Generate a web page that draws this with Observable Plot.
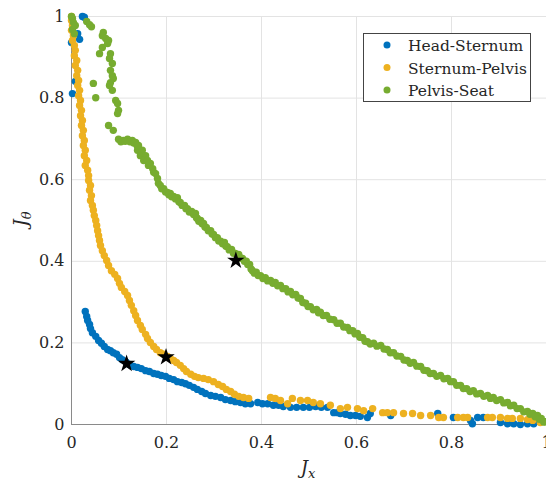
<!DOCTYPE html>
<html><head><meta charset="utf-8">
<script src="https://cdn.jsdelivr.net/npm/d3@7"></script>
<script src="https://cdn.jsdelivr.net/npm/@observablehq/plot@0.6"></script>
<style>
body{margin:0;background:#fff;}
#chart{position:relative;width:546px;height:480px;}
</style>
</head><body><div id="chart"></div>
<script>
const seriesNames = ["Head-Sternum", "Sternum-Pelvis", "Pelvis-Seat"];
const seriesColors = ["#0072BD", "#EDB120", "#77AC30"];
const ticks = [0, 0.2, 0.4, 0.6, 0.8, 1];
const tickLabels = ["0", "0.2", "0.4", "0.6", "0.8", "1"];
const xLabel = ["J", "x"];
const yLabel = ["J", "θ"];

const headSternum = [
[.023,1],[.027,.998],[.013,.958],[.017,.944],[0,.936],[.008,.841],[.002,.811],
[.029,.277],[.032,.265],[.034,.255],[.038,.245],[.040,.235],[.044,.225],[.051,.216],[.057,.206],[.063,.199],[.069,.191],[.076,.184],[.082,.181],[.088,.176],[.095,.172],[.101,.164],[.107,.159],[.115,.153],[.122,.147],[.131,.142],[.139,.140],[.147,.137],[.156,.132],[.164,.130],[.173,.125],[.181,.123],[.189,.120],[.198,.118],[.206,.113],[.215,.110],[.223,.105],[.232,.103],[.240,.100],[.248,.096],[.257,.091],[.265,.086],[.274,.081],[.282,.076],[.293,.071],[.303,.069],[.314,.066],[.324,.061],[.335,.059],[.345,.056],[.356,.054],[.366,.051],[.377,.051],[.392,.054],[.402,.051],[.413,.051],[.425,.047],[.436,.047],[.446,.044],[.461,.042],[.474,.042],[.488,.042],[.501,.042],[.514,.044],[.526,.042],[.539,.042],[.552,.029],[.560,.029],[.566,.027],[.577,.025],[.587,.022],[.598,.022],[.608,.020],[.623,.017],[.629,.027],[.672,.022],[.771,.027],[.804,.017],[.840,.010],[.844,.002],[.855,.017],[.867,.017],[.903,.005],[.918,.002],[.931,.002],[.945,0],[.960,.002],[.973,.002]
];

const sternumPelvis = [
[0,1],[0,.990],[.002,.978],[0,.966],[.004,.953],[.002,.941],[.006,.929],[.008,.917],[.006,.904],[.011,.892],[.008,.880],[.013,.868],[.011,.855],[.015,.843],[.013,.831],[.017,.819],[.015,.806],[.019,.794],[.017,.782],[.021,.770],[.019,.757],[.023,.745],[.021,.733],[.025,.721],[.023,.708],[.027,.696],[.025,.684],[.029,.672],[.027,.659],[.032,.647],[.029,.635],[.034,.623],[.036,.610],[.036,.598],[.040,.586],[.038,.574],[.042,.561],[.040,.549],[.044,.537],[.046,.525],[.048,.512],[.051,.500],[.053,.488],[.055,.475],[.057,.463],[.059,.451],[.061,.439],[.065,.426],[.069,.414],[.074,.402],[.078,.390],[.084,.377],[.091,.368],[.097,.358],[.101,.346],[.105,.336],[.112,.326],[.118,.316],[.122,.304],[.126,.292],[.131,.279],[.135,.267],[.139,.255],[.145,.243],[.149,.233],[.156,.221],[.160,.211],[.166,.201],[.173,.191],[.179,.184],[.187,.176],[.194,.172],[.202,.167],[.208,.162],[.215,.157],[.221,.152],[.229,.145],[.236,.137],[.242,.130],[.251,.123],[.259,.118],[.267,.115],[.278,.113],[.288,.110],[.299,.105],[.309,.098],[.318,.093],[.326,.086],[.335,.081],[.343,.074],[.352,.069],[.362,.066],[.373,.064],
[.419,.066],[.429,.064],[.440,.059],[.455,.051],[.465,.064],[.482,.059],[.497,.059],[.509,.054],[.524,.051],[.545,.047],[.566,.039],[.581,.042],[.602,.039],[.615,.034],[.634,.039],[.655,.029],[.665,.029],[.678,.029],[.699,.027],[.718,.027],[.735,.022],[.756,.022],[.773,.017],[.783,.017],[.813,.017],[.825,.017],[.834,.017],[.876,.017],[.886,.017],[.903,.017],[.918,.015],[.928,.015],[.945,.015],[.960,.012],[.971,.010],[.987,.005]
];

const pelvisSeat = [
[0,1],[.002,.995],[.004,.985],[.002,.968],[.006,.958],[.008,.978],[.032,.988],[.038,.980],[.042,.975],
[.067,.961],[.065,.953],[.072,.946],[.078,.941],[.076,.934],[.065,.924],[.059,.909],[.082,.909],[.080,.897],[.086,.885],[.082,.868],[.086,.855],[.088,.848],[.082,.838],[.080,.831],[.086,.819],[.046,.836],[.051,.801],[.093,.794],[.097,.787],[.099,.770],[.097,.762],[.078,.733],[.088,.721],
[.099,.699],[.109,.696],[.118,.699],[.128,.696],[.135,.691],[.141,.684],[.139,.672],[.149,.672],[.145,.659],[.156,.659],[.152,.647],[.160,.647],[.162,.635],[.166,.640],[.171,.627],[.173,.618],[.177,.615],[.181,.603],[.183,.591],[.187,.586],[.194,.578],[.202,.569],[.208,.566],[.215,.559],[.223,.556],[.229,.544],[.238,.537],[.244,.529],[.253,.522],[.261,.517],[.265,.505],[.272,.500],[.278,.493],[.284,.483],[.293,.475],[.299,.466],[.307,.458],[.314,.449],[.322,.446],[.328,.436],[.337,.429],[.345,.419],[.352,.417],[.360,.407],[.368,.400],[.375,.392],[.381,.377],[.389,.373],[.398,.365],[.408,.360],[.419,.353],[.429,.348],[.440,.341],[.451,.333],[.461,.326],[.472,.319],[.482,.309],[.493,.297],[.503,.289],[.516,.282],[.524,.275],[.537,.267],[.552,.257],[.566,.248],[.581,.238],[.592,.230],[.602,.223],[.613,.213],[.623,.203],[.636,.199],[.651,.194],[.665,.184],[.678,.176],[.693,.167],[.707,.157],[.720,.152],[.735,.142],[.749,.132],[.762,.125],[.777,.120],[.792,.113],[.804,.105],[.819,.096],[.832,.088],[.846,.083],[.861,.076],[.876,.071],[.888,.066],[.903,.061],[.918,.054],[.931,.047],[.945,.039],[.960,.032],[.971,.027],[.981,.022],[.989,.015],[.998,.007],
[.104,.693],[.113,.694],[.123,.693],[.131,.690],[.138,.684],[.190,.578],[.198,.570],[.205,.563],[.211,.558],[.219,.553],[.226,.546],[.233,.537],[.241,.529],[.248,.521],[.257,.515],[.263,.507],[.268,.498],[.275,.492],[.281,.484],[.288,.475],[.296,.467],[.303,.458],[.310,.450],[.318,.443],[.325,.437],[.332,.428],[.341,.420],[.348,.414],[.356,.408],[.364,.400],[.371,.392],[.378,.381],[.385,.371],[.393,.365],[.403,.358],[.413,.352],[.424,.346],[.434,.340],[.445,.333],[.456,.325],[.466,.318],[.477,.310],[.487,.299],[.498,.289],[.509,.281],[.520,.274],[.530,.267],[.544,.258],[.559,.248],[.573,.239],[.586,.230],[.597,.222],[.607,.214],[.618,.204],[.629,.197],[.643,.192],[.658,.185],[.671,.176],[.685,.168],[.700,.158],[.713,.150],[.727,.143],[.742,.133],[.755,.125],[.769,.118],[.784,.112],[.798,.105],[.811,.096],[.825,.088],[.839,.081],[.853,.075],[.868,.069],[.882,.064],[.895,.059],[.910,.053],[.924,.046],[.938,.039],[.952,.031],[.965,.025],[.976,.019],[.985,.013],[.994,.006]
];

const starX = [0.116, 0.199, 0.346];
const starY = [0.149, 0.165, 0.402];

const rows = [];
[headSternum, sternumPelvis, pelvisSeat].forEach((arr, i) =>
  arr.forEach(([x, y]) => rows.push({x, y, s: seriesNames[i]})));
const stars = starX.map((x, i) => ({x, y: starY[i]}));
const fmt = d => tickLabels[ticks.indexOf(d)];
const textColor = "#262626";
const serif = "DejaVu Serif";

const plot = Plot.plot({
  width: 546, height: 480,
  marginLeft: 71, marginRight: 0, marginTop: 16, marginBottom: 56,
  style: {fontFamily: serif, fontSize: "16px", background: "#fff", color: textColor, overflow: "visible"},
  x: {domain: [0, 1]},
  y: {domain: [0, 1]},
  color: {domain: seriesNames, range: seriesColors},
  marks: [
    Plot.gridX(ticks, {stroke: "#e3e3e3", strokeOpacity: 1}),
    Plot.gridY(ticks, {stroke: "#e3e3e3", strokeOpacity: 1}),
    Plot.ruleX([0], {stroke: "#8a8a8a"}),
    Plot.ruleY([0], {stroke: "#8a8a8a"}),
    Plot.axisX(ticks, {tickSize: 0, tickPadding: 12, tickFormat: fmt, label: null, fill: textColor, fontFamily: serif, fontSize: 16}),
    Plot.axisY(ticks, {tickSize: 0, tickPadding: 7, tickFormat: fmt, label: null, fill: textColor, fontFamily: serif, fontSize: 16}),
    Plot.dot(rows, {x: "x", y: "y", fill: "s", r: 3.7}),
    Plot.dot(stars, {x: "x", y: "y", symbol: "star", fill: "black", r: 5.5})
  ]
});
document.getElementById("chart").appendChild(plot);

const svg = d3.select(plot);
// axis titles
const xt = svg.append("text").attr("x", 308).attr("y", 474).attr("text-anchor", "middle")
  .style("font-family", serif).attr("font-size", 18).attr("font-style", "italic").attr("fill", textColor);
xt.append("tspan").text(xLabel[0]);
xt.append("tspan").attr("font-size", 13).attr("dy", 4).text(xLabel[1]);
const yt = svg.append("text").attr("transform", "translate(27,219) rotate(-90)").attr("text-anchor", "middle")
  .style("font-family", serif).attr("font-size", 18).attr("font-style", "italic").attr("fill", textColor);
yt.append("tspan").text(yLabel[0]);
yt.append("tspan").attr("font-size", 13).attr("dy", 4).text(yLabel[1]);

// legend
const lg = svg.append("g");
lg.append("rect").attr("x", 363.5).attr("y", 33.5).attr("width", 167).attr("height", 68)
  .attr("fill", "white").attr("stroke", "#444").attr("stroke-width", 1);
seriesNames.forEach((name, i) => {
  const cy = 45 + i * 22.5;
  lg.append("circle").attr("cx", 387).attr("cy", cy).attr("r", 3.5).attr("fill", seriesColors[i]);
  lg.append("text").attr("x", 408).attr("y", cy + 6).attr("text-anchor", "start")
    .style("font-family", serif).attr("font-size", 15.5)
    .attr("fill", textColor).text(name);
});
</script>
</body></html>
